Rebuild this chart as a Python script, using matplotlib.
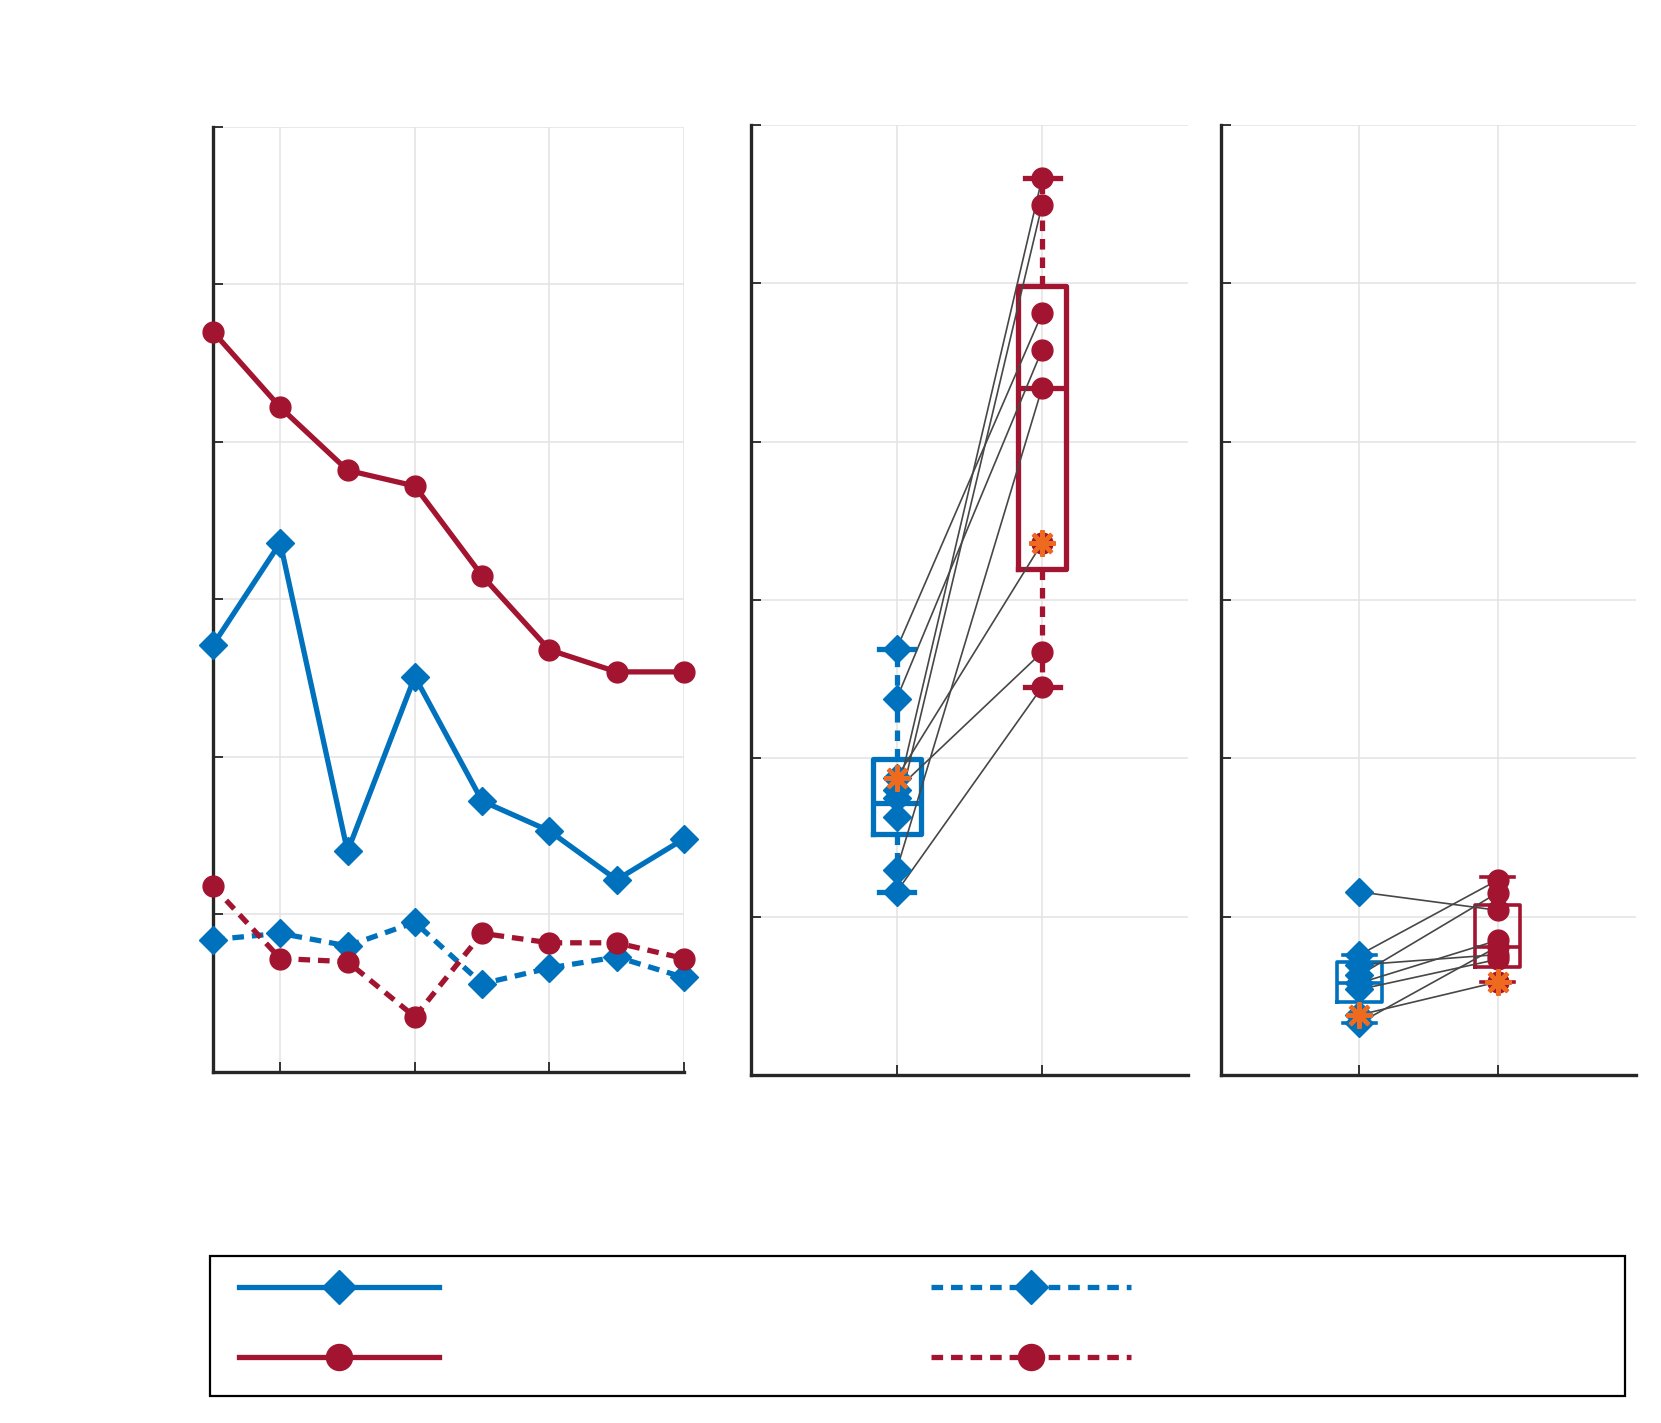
import matplotlib.pyplot as plt
from matplotlib.lines import Line2D
from matplotlib.patches import Rectangle

# цвета
blue = "#0072BD"
red = "#A2142F"
orange = "#EE6A1F"
dark = "#262626"
grid_c = "#E3E3E3"
pair_c = "#474747"

# левая панель: 8 точек на серию
x_idx = [1, 2, 3, 4, 5, 6, 7, 8]
blue_solid = [2.71, 3.36, 1.40, 2.51, 1.72, 1.53, 1.22, 1.48]
red_solid = [4.70, 4.22, 3.82, 3.72, 3.15, 2.68, 2.54, 2.54]
blue_dashed = [0.84, 0.88, 0.80, 0.95, 0.56, 0.66, 0.73, 0.60]
red_dashed = [1.18, 0.72, 0.70, 0.35, 0.88, 0.82, 0.82, 0.72]

# средняя панель: парные значения (условие 1 / условие 2)
mid_blue = [2.69, 2.375, 1.876, 1.80, 1.75, 1.63, 1.295, 1.156]
mid_red = [4.81, 4.58, 3.36, 2.67, 5.665, 5.495, 4.34, 2.45]
mid_q1 = [1.52, 3.196]
mid_med = [1.72, 4.34]
mid_q3 = [1.996, 4.98]
mid_lo = [1.156, 2.45]
mid_hi = [2.69, 5.665]

# правая панель
right_blue = [1.156, 0.758, 0.379, 0.695, 0.63, 0.58, 0.54, 0.328]
right_red = [1.04, 1.23, 0.587, 0.76, 1.15, 0.85, 0.73, 0.81]
right_q1 = [0.46, 0.68]
right_med = [0.58, 0.81]
right_q3 = [0.714, 1.074]
right_lo = [0.33, 0.587]
right_hi = [0.758, 1.25]

# выделенный участник (звёздочка)
highlight = 2

dash = (0, (2.2, 1.5))
lw_line = 3.8
ms_d = 14
ms_o = 15
asterisk = (8, 2, 0)

fig = plt.figure(figsize=(16.61, 14.23), dpi=100)


def style_axes(ax, xlim, xticks):
    ax.set_xlim(*xlim)
    ax.set_ylim(0, 6)
    ax.set_xticks(xticks)
    ax.set_yticks(range(7))
    ax.grid(True, color=grid_c, lw=1.1)
    ax.set_axisbelow(True)
    for s in ["top", "right"]:
        ax.spines[s].set_visible(False)
    for s in ["left", "bottom"]:
        ax.spines[s].set_linewidth(2.4)
        ax.spines[s].set_color(dark)
    ax.tick_params(direction="in", length=7, width=1.3, color=dark,
                   labelleft=False, labelbottom=False)


# левая панель
ax1 = fig.add_axes([0.1282, 0.2467, 0.2836, 0.6641])
style_axes(ax1, (1, 8), [2, 4, 6, 8])
h_bs, = ax1.plot(x_idx, blue_solid, "-D", color=blue, lw=lw_line, ms=ms_d, clip_on=False, zorder=3)
h_rs, = ax1.plot(x_idx, red_solid, "-o", color=red, lw=lw_line, ms=ms_o, clip_on=False, zorder=3)
h_bd, = ax1.plot(x_idx, blue_dashed, "D", ls=dash, color=blue, lw=lw_line, ms=ms_d, clip_on=False, zorder=3)
h_rd, = ax1.plot(x_idx, red_dashed, "o", ls=dash, color=red, lw=lw_line, ms=ms_o, clip_on=False, zorder=3)


def paired_panel(ax, b_vals, r_vals, q1, med, q3, lo, hi, box_lw):
    style_axes(ax, (0, 3), [1, 2])
    for pos, c, i in [(1, blue, 0), (2, red, 1)]:
        st = [dict(med=med[i], q1=q1[i], q3=q3[i], whislo=lo[i], whishi=hi[i], fliers=[])]
        ax.bxp(st, positions=[pos], widths=0.33, capwidths=0.24, showfliers=False,
               boxprops=dict(color=c, lw=box_lw),
               whiskerprops=dict(color=c, lw=box_lw, linestyle=(0, (2.0, 1.5))),
               capprops=dict(color=c, lw=box_lw),
               medianprops=dict(color=c, lw=box_lw),
               manage_ticks=False, zorder=2)
    for b, r in zip(b_vals, r_vals):
        ax.plot([1, 2], [b, r], color=pair_c, lw=1.2, zorder=3)
    ax.plot([1] * len(b_vals), b_vals, "D", color=blue, ms=ms_d, ls="none", zorder=4)
    ax.plot([2] * len(r_vals), r_vals, "o", color=red, ms=ms_o, ls="none", zorder=4)
    ax.plot([1, 2], [b_vals[highlight], r_vals[highlight]], ls="none", marker=asterisk,
            ms=19, mew=3.0, color=orange, zorder=5)


ax2 = fig.add_axes([0.4522, 0.2446, 0.2628, 0.6676])
paired_panel(ax2, mid_blue, mid_red, mid_q1, mid_med, mid_q3, mid_lo, mid_hi, 3.8)

ax3 = fig.add_axes([0.7353, 0.2446, 0.2494, 0.6676])
paired_panel(ax3, right_blue, right_red, right_q1, right_med, right_q3, right_lo, right_hi, 2.6)

# легенда без подписей
fig.legend([h_bs, h_rs, h_bd, h_rd], ["", "", "", ""], ncol=2, frameon=False,
           loc="center", bbox_to_anchor=(685 / 1661, 1 - 1324 / 1423),
           fontsize=20, handlelength=7.2, handletextpad=0, columnspacing=17.7,
           labelspacing=1.5, borderpad=0, borderaxespad=0, markerscale=1.25)
fig.patches.append(Rectangle((0.1264, 0.0190), 0.8519, 0.0984, transform=fig.transFigure,
                             fill=False, ec="black", lw=1.6))

fig.savefig("out.png", dpi=100)
